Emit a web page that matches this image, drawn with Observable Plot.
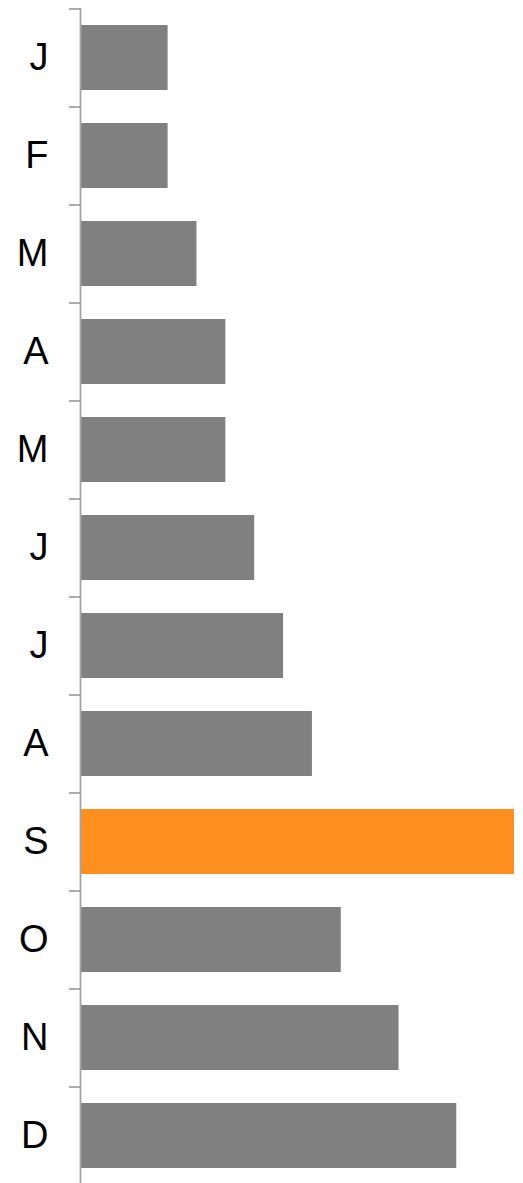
<!DOCTYPE html>
<html>
<head>
<meta charset="utf-8">
<script src="https://cdn.jsdelivr.net/npm/d3@7"></script>
<script src="https://cdn.jsdelivr.net/npm/@observablehq/plot@0.6"></script>
<style>
  html, body { margin: 0; padding: 0; background: #fff; }
</style>
</head>
<body>
<div id="chart"></div>
<script>
// Monthly values; September is highlighted
const months = ["Jan", "Feb", "Mar", "Apr", "May", "Jun", "Jul", "Aug", "Sep", "Oct", "Nov", "Dec"];
const monthLabels = ["J", "F", "M", "A", "M", "J", "J", "A", "S", "O", "N", "D"];
const values = [3, 3, 4, 5, 5, 6, 7, 8, 15, 9, 11, 13];
const highlight = "Sep";

const data = months.map((m, i) => ({month: m, value: values[i]}));

const grey = "#808080";
const orange = "#FF8F1F";
const axisColor = "#a3a3a3";

const width = 523, height = 1183;
const yRange = [8, 1184];
const step = (yRange[1] - yRange[0]) / months.length;

const chart = Plot.plot({
  width,
  height,
  marginLeft: 81,
  marginRight: 9,
  marginTop: 8,
  marginBottom: 0,
  style: {fontFamily: "'Liberation Sans', Arial, sans-serif", background: "#fff"},
  x: {domain: [0, 15], axis: null},
  y: {domain: months, range: yRange, paddingInner: 0.337, paddingOuter: 0.1685, axis: null},
  color: {type: "identity"},
  marks: [
    Plot.barX(data, {
      y: "month",
      x: "value",
      fill: d => d.month === highlight ? orange : grey
    }),
    // tick marks sit on the boundaries between months
    Plot.axisY({
      anchor: "left",
      label: null,
      tickSize: 11,
      tickFormat: () => "",
      dy: -step / 2,
      dx: -1,
      stroke: axisColor,
      strokeWidth: 1.8
    }),
    // month initials
    Plot.axisY({
      anchor: "left",
      label: null,
      tickSize: 0,
      tickPadding: 33,
      tickFormat: d => monthLabels[months.indexOf(d)],
      fontSize: 38,
      fill: "#000"
    }),
    Plot.ruleX([0], {stroke: axisColor, strokeWidth: 1.8, dx: -1})
  ]
});

document.getElementById("chart").append(chart);
</script>
</body>
</html>
